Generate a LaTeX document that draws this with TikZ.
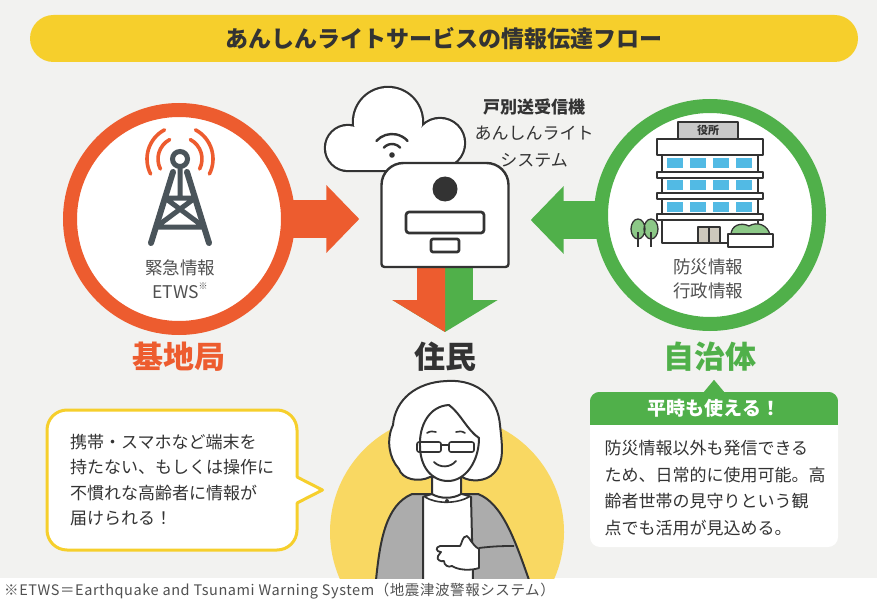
\documentclass[tikz,border=0pt]{standalone}
\usepackage{fontspec}
\setmainfont{Noto Sans CJK JP}
\usetikzlibrary{arrows.meta}

\definecolor{paper}{RGB}{242,242,240}
\definecolor{banner}{RGB}{246,207,44}
\definecolor{sun}{RGB}{249,216,98}
\definecolor{alert}{RGB}{237,92,47}
\definecolor{civic}{RGB}{80,176,74}
\definecolor{ink}{RGB}{51,51,51}
\definecolor{label}{RGB}{80,80,80}
\definecolor{steel}{RGB}{74,84,90}
\definecolor{pane}{RGB}{82,186,228}
\definecolor{slab}{RGB}{200,200,200}
\definecolor{wool}{RGB}{172,172,172}
\definecolor{leaf}{RGB}{140,200,135}
\definecolor{doorway}{RGB}{205,200,188}

\begin{document}
\begin{tikzpicture}[x=1pt,y=-1pt]
\tikzstyle{every node}+=[inner sep=0pt]
\tikzstyle{ring}=[circle,draw,line width=14pt,fill=white,minimum size=218pt]
\tikzstyle{flow}=[line width=38pt,-{Triangle[length=33pt,width=66pt]}]
\tikzstyle{outline}=[draw=ink,line width=2.4pt,line join=round]
\tikzstyle{thin}=[draw=ink,line width=1.3pt,line join=round]
\tikzstyle{caption}=[text=label,font=\fontsize{17.5}{17.5}\selectfont]
\tikzstyle{who}=[font=\bfseries\fontsize{31}{31}\selectfont]
\tikzstyle{bubble}=[draw=banner,line width=3pt,fill=white,rounded corners=20pt,
  minimum width=250pt,minimum height=140pt,align=left,text=ink,
  font=\fontsize{17}{25.5}\selectfont]

\useasboundingbox (0,0) rectangle (877,604);
\fill [paper] (0,0) rectangle (877,578);
\fill [white] (0,578) rectangle (877,604);

\node [fill=banner,rounded corners=23.5pt,minimum width=828pt,minimum height=47pt,
  text=ink,font=\bfseries\fontsize{23}{23}\selectfont] (title) at (444,38.5)
  {あんしんライトサービスの情報伝達フロー};

% the two sources and the receiver
\node [ring,draw=alert] (station) at (179,219) {};
\node [ring,draw=civic] (city) at (710,215) {};
\node [minimum width=127pt,minimum height=104pt] (box) at (445,215) {};
\coordinate (cityport) at ([yshift=-5pt]city.west);
\coordinate (drop) at (445,332);

\draw [flow,alert,shorten >=22pt] ([xshift=-4pt]station.east) -- (station.east -| box.west);
\draw [flow,civic,shorten >=22pt] ([xshift=4pt]cityport) -- (cityport -| box.east);

\draw [civic,line width=56pt,-{Triangle[length=32pt,width=104pt]}] (box.center) -- (drop);
\begin{scope}
\clip (box.west) rectangle ([yshift=-12pt]drop);
\draw [alert,line width=56pt,-{Triangle[length=32pt,width=104pt]}] (box.center) -- (drop);
\end{scope}

% cloud
\draw [ink,line width=4.4pt] (348,148) circle (22) (388,122) circle (34) (440,143) circle (24)
  (348,135) rectangle (440,170);
\fill [white] (348,148) circle (22);
\fill [white] (388,122) circle (34);
\fill [white] (440,143) circle (24);
\fill [white] (348,135) rectangle (440,170);
\fill [ink] (392,155) circle (2.8);
\draw [ink,line width=2.4pt,line cap=round] (392,155) ++(222:11) arc[start angle=222,end angle=318,radius=11];
\draw [ink,line width=2.4pt,line cap=round] (392,155) ++(222:21) arc[start angle=222,end angle=318,radius=21];

% receiver
\filldraw [fill=white,outline] (381.5,264) -- (381.5,185) arc[start angle=180,end angle=270,radius=22]
  -- (486.5,163) arc[start angle=270,end angle=360,radius=22]
  -- (508.5,264) arc[start angle=0,end angle=90,radius=3]
  -- (384.5,267) arc[start angle=90,end angle=180,radius=3] -- cycle;
\fill [ink] (445,189) circle (12.5);
\draw [outline,line width=2.7pt,rounded corners=3pt] (406,212) rectangle (484,233);
\draw [outline,line width=2.7pt,rounded corners=2pt] (431,239) rectangle (459,252);

\node [align=center,text=ink,font=\fontsize{17}{26.5}\selectfont] (unit) at (534,133)
  {{\bfseries 戸別送受信機}\\あんしんライト\\システム};

% tower
\draw [steel,line width=5pt] (180,159) circle (7.5);
\draw [steel,line width=6pt,line cap=round] (173,172) -- (151,243) (187,172) -- (209,243);
\draw [steel,line width=5pt] (180,166) -- (180,198) (165,198) -- (195,198) (156,227) -- (204,227)
  (165,198) -- (204,227) (195,198) -- (156,227);
\draw [alert,line width=3.6pt,line cap=round] (180,159) ++(153:22) arc[start angle=153,end angle=242,radius=22];
\draw [alert,line width=3.6pt,line cap=round] (180,159) ++(153:33) arc[start angle=153,end angle=242,radius=33];
\draw [alert,line width=3.6pt,line cap=round] (180,159) ++(-62:22) arc[start angle=-62,end angle=27,radius=22];
\draw [alert,line width=3.6pt,line cap=round] (180,159) ++(-62:33) arc[start angle=-62,end angle=27,radius=33];
\node [caption] (etwsname) at (180,268) {緊急情報};
\node [caption] (etws) at (180,291) {ETWS\raisebox{0.5em}{\fontsize{9}{9}\selectfont ※}};

% city hall
\filldraw [fill=slab,thin] (678,122) rectangle (738,139);
\node [text=ink,font=\bfseries\fontsize{11}{11}\selectfont] (hall) at (708,130.5) {役所};
\filldraw [fill=white,thin] (662,155) rectangle (758,243);
\filldraw [fill=white,thin] (657,139) rectangle (763,155);
\foreach \y in {172,193,214}
  \filldraw [fill=white,thin] (657,\y) rectangle ++(106,6);
\foreach \x in {667,690,713,736}
  \foreach \y in {158,180,202}
    \fill [pane] (\x,\y) rectangle ++(16,10);
\filldraw [fill=doorway,thin] (698,227) rectangle (720,243);
\draw [thin] (709,227) -- (709,243);
\filldraw [fill=leaf,thin] (638,229) ellipse (7 and 10) (651,229) ellipse (7 and 10);
\draw [thin] (638,232) -- (638,247) (651,232) -- (651,247);
\filldraw [fill=leaf,thin] (731,235) .. controls (731,225) and (741,222) .. (749,226)
  .. controls (757,221) and (768,225) .. (770,235) -- cycle;
\filldraw [fill=white,thin] (728,234) rectangle (773,247);
\node [caption] (disaster) at (708,267) {防災情報};
\node [caption] (admin) at (708,291) {行政情報};

\node [who,text=alert] (stationlabel) at (179,357) {基地局};
\node [who,text=ink] (resident) at (445,357) {住民};
\node [who,text=civic] (citylabel) at (710,357) {自治体};

% resident
\begin{scope}
\clip (0,0) rectangle (877,578);
\fill [sun] (447,532) circle (117);
\filldraw [fill=wool,outline,line width=2pt] (376,580) .. controls (380,540) and (386,505) .. (412,494)
  -- (478,494) .. controls (502,503) and (515,540) .. (529,580) -- cycle;
\filldraw [fill=white,outline,line width=2pt] (423,580) -- (423,497) .. controls (436,491) and (458,491) .. (471,497) -- (473,580);
\filldraw [fill=white,outline,line width=2pt] (432,476) -- (432,494) .. controls (440,499) and (453,499) .. (461,494) -- (461,476);
\draw [outline,line width=1.6pt] (425,497) .. controls (436,504) and (456,504) .. (469,497);
\fill [ink] (447,501) circle (2);
\filldraw [fill=white,outline,line width=2pt] (447,381) .. controls (480,379) and (498,400) .. (500,425)
  .. controls (502,445) and (505,462) .. (494,473) .. controls (486,482) and (470,482) .. (462,477)
  -- (430,477) .. controls (418,483) and (402,479) .. (399,469)
  .. controls (389,458) and (386,440) .. (393,425) .. controls (395,400) and (416,382) .. (447,381) -- cycle;
\filldraw [fill=white,outline,line width=2pt] (420,446) .. controls (419,426) and (429,406) .. (449,405)
  .. controls (461,414) and (467,430) .. (479,438) .. controls (479,462) and (465,481) .. (448,481)
  .. controls (431,481) and (420,466) .. (420,446) -- cycle;
\draw [outline,line width=1.6pt,rounded corners=2pt] (417,442) rectangle (441,452) (449,442) rectangle (474,452);
\draw [outline,line width=1.6pt] (441,445) -- (449,445);
\draw [outline,line width=1.6pt,line cap=round] (427,433) .. controls (430,431) and (433,431) .. (436,432)
  (456,432) .. controls (459,431) and (462,431) .. (465,433);
\draw [outline,line width=1.8pt,line cap=round] (434,462) .. controls (440,468) and (450,468) .. (456,461);
\draw [outline,line width=1.8pt] (479,548) .. controls (495,546) and (505,546) .. (514,546);
\filldraw [fill=white,outline,line width=1.8pt] (479,549) .. controls (472,545) and (470,538) .. (467,536)
  .. controls (462,536) and (462,544) .. (460,546) -- (440,546)
  .. controls (435,547) and (436,552) .. (441,552) -- (438,556)
  .. controls (436,560) and (441,562) .. (444,561) .. controls (444,565) and (448,568) .. (452,566)
  .. controls (458,570) and (470,571) .. (479,568) -- cycle;
\end{scope}

% speech bubble
\node [bubble] (talk) at (172,480) {携帯・スマホなど端末を\\持たない、もしくは操作に\\不慣れな高齢者に情報が\\届けられる！};
\fill [white] ([xshift=-4pt,yshift=3pt]talk.east) -- ([xshift=24pt,yshift=-10pt]talk.east)
  -- ([xshift=-4pt,yshift=-23pt]talk.east) -- cycle;
\draw [banner,line width=3pt,line join=round] ([xshift=-1.5pt,yshift=3pt]talk.east)
  -- ([xshift=24pt,yshift=-10pt]talk.east) -- ([xshift=-1.5pt,yshift=-23pt]talk.east);

% note under the city
\node [fill=white,rounded corners=10pt,minimum width=248pt,minimum height=155pt] (note) at (714,469.5) {};
\begin{scope}
\clip [rounded corners=10pt] (note.north west) rectangle (note.south east);
\fill [civic] (note.north west) rectangle ([yshift=-33pt]note.north east);
\end{scope}
\fill [civic] ([xshift=-10pt]note.north) -- ([yshift=12pt]note.north) -- ([xshift=10pt]note.north) -- cycle;
\node [text=white,font=\bfseries\fontsize{19}{19}\selectfont] (perk) at (714,408.5) {平時も使える！};
\node [align=left,text=ink,font=\fontsize{17}{26.5}\selectfont] (notetext) at (715,488)
  {防災情報以外も発信できる\\ため、日常的に使用可能。高\\齢者世帯の見守りという観\\点でも活用が見込める。};

\node [anchor=west,text=label,font=\fontsize{14.5}{14.5}\selectfont\addfontfeatures{LetterSpace=4}] (footnote) at (4,591)
  {※ETWS＝Earthquake and Tsunami Warning System（地震津波警報システム）};
\end{tikzpicture}
\end{document}
